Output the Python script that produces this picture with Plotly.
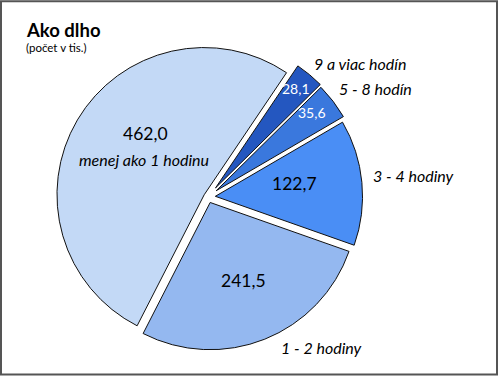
import plotly.graph_objects as go

categories = ["9 a viac hodín", "5 - 8 hodín", "3 - 4 hodiny", "1 - 2 hodiny", "menej ako 1 hodinu"]
values = [28.1, 35.6, 122.7, 241.5, 462.0]
colors = ["#2457c0", "#3a78dd", "#4a8ef5", "#94b8f0", "#c3d9f6"]
value_colors = ["white", "white", "black", "black", "black"]
value_sizes = [14, 14, 17.5, 17.5, 17.5]
pulls = [0.08, 0.07, 0.05, 0.04, 0.03]

W, H = 499, 376
CX, CY, HALF = 208, 179, 159  # pie box centre (px from left / bottom) and half-size

fig = go.Figure(go.Pie(
    labels=categories,
    values=values,
    sort=False,
    direction="clockwise",
    rotation=34,
    pull=pulls,
    marker=dict(colors=colors, line=dict(color="#111111", width=1)),
    textinfo="none",
    hoverinfo="label+value",
    showlegend=False,
    domain=dict(x=[(CX - HALF) / W, (CX + HALF) / W], y=[(CY - HALF) / H, (CY + HALF) / H]),
))

def fmt(v):
    return f"{v:.1f}".replace(".", ",")

value_pos = [(296, 88), (312, 112), (294, 183), (243, 280), (145, 133)]
label_pos = [(360, 63), (375, 88), (413, 175), (321, 347), (144, 159)]

ann = []
for i, v in enumerate(values):
    x, y = value_pos[i]
    ann.append(dict(x=x / W, y=1 - y / H, xref="paper", yref="paper", text=fmt(v),
                    xanchor="center", yanchor="middle",
                    showarrow=False, font=dict(family="Lato", size=value_sizes[i], color=value_colors[i])))
for i, c in enumerate(categories):
    x, y = label_pos[i]
    ann.append(dict(x=x / W, y=1 - y / H, xref="paper", yref="paper", text=f"<i>{c}</i>",
                    xanchor="center", yanchor="middle",
                    showarrow=False, font=dict(family="Lato", size=16, color="black")))

ann.append(dict(x=24 / W, y=1 - 30 / H, xref="paper", yref="paper", text="<b>Ako dlho</b>",
                showarrow=False, xanchor="left", yanchor="middle",
                font=dict(family="Lato", size=18.5, color="black")))
ann.append(dict(x=24 / W, y=1 - 47 / H, xref="paper", yref="paper", text="(počet v tis.)",
                showarrow=False, xanchor="left", yanchor="middle",
                font=dict(family="Lato", size=11.5, color="black")))

fig.update_layout(
    width=W, height=H,
    margin=dict(l=0, r=0, t=0, b=0),
    paper_bgcolor="white",
    plot_bgcolor="white",
    annotations=ann,
    shapes=[dict(type="rect", xref="paper", yref="paper", x0=0.002, x1=0.996, y0=0.004, y1=0.997,
                 line=dict(color="#555555", width=2))],
)

fig.write_html("out.html")
